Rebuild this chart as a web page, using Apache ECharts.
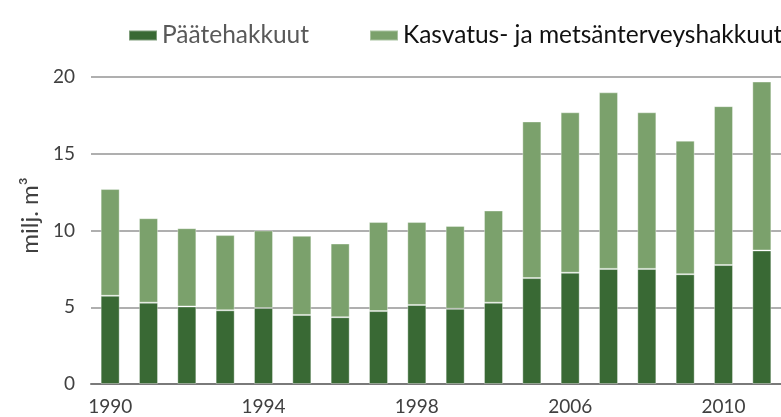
<!DOCTYPE html>
<html>
	<head>
		<meta charset="utf-8" />
		<script type="text/javascript" src="https://cdn.jsdelivr.net/npm/echarts@6/dist/echarts.min.js"></script>
		<title></title>
		<style>
			html, body { margin: 0; padding: 0; background: #fff; }
		</style>
	</head>
	<body>
		<div id="chartmain" style="width:781px; height: 417px;"></div>
		<script type="text/javascript">
var years = ['1990', '1991', '1992', '1993', '1994', '1995', '1996', '1997', '1998',
  '2002', '2004', '2005', '2006', '2007', '2008', '2009', '2010', '2011'];
// milj. m3
var paatehakkuut = [5.75, 5.3, 5.05, 4.8, 4.95, 4.5, 4.35, 4.75, 5.15,
  4.9, 5.3, 6.9, 7.25, 7.5, 7.5, 7.15, 7.75, 8.7];
var kasvatus = [6.95, 5.5, 5.1, 4.9, 5.05, 5.15, 4.8, 5.8, 5.4,
  5.4, 6.0, 10.2, 10.45, 11.5, 10.2, 8.7, 10.35, 11.0];
var yTicks = [0, 5, 10, 15, 20];

var font = 'Lato';
var darkGreen = '#396934';
var lightGreen = '#7ba16c';

option = {
  animation: false,
  textStyle: { fontFamily: font },
  legend: [
    {
      left: 123,
      top: 18,
      itemWidth: 28,
      itemHeight: 10,
      itemGap: 8,
      icon: 'rect',
      textStyle: { fontFamily: font, fontSize: 24.5, color: '#595959' },
      data: ['Päätehakkuut']
    },
    {
      left: 364,
      top: 18,
      itemWidth: 28,
      itemHeight: 10,
      icon: 'rect',
      textStyle: { fontFamily: font, fontSize: 24.5, color: '#111' },
      data: ['Kasvatus- ja metsänterveyshakkuut']
    }
  ],
  grid: {
    left: 91,
    right: -14,
    top: 77,
    bottom: 33,
    containLabel: false
  },
  xAxis: {
    type: 'category',
    data: years,
    axisTick: { show: false },
    axisLine: { lineStyle: { color: '#7a7a7a', width: 2 } },
    axisLabel: {
      interval: 3,
      margin: 13,
      fontFamily: font,
      fontSize: 19,
      color: '#404040'
    }
  },
  yAxis: {
    type: 'value',
    min: yTicks[0],
    max: yTicks[yTicks.length - 1],
    interval: 5,
    name: 'milj. m³',
    nameLocation: 'middle',
    nameGap: 48,
    nameTextStyle: {
      fontFamily: font,
      fontSize: 24,
      color: '#404040',
      padding: [0, 0, 0, 30]
    },
    axisLine: { show: false },
    axisTick: { show: false },
    axisLabel: {
      margin: 16,
      fontFamily: font,
      fontSize: 19,
      color: '#404040'
    },
    splitLine: { lineStyle: { color: '#959595', width: 1.5 } }
  },
  series: [
    {
      name: 'Päätehakkuut',
      type: 'bar',
      stack: 'total',
      barWidth: 19,
      itemStyle: { color: darkGreen, borderColor: 'rgba(255,255,255,0.35)', borderWidth: 1 },
      data: paatehakkuut
    },
    {
      name: 'Kasvatus- ja metsänterveyshakkuut',
      type: 'bar',
      stack: 'total',
      barWidth: 19,
      itemStyle: { color: lightGreen, borderColor: 'rgba(255,255,255,0.35)', borderWidth: 1 },
      data: kasvatus
    }
  ]
};
			var myChart = echarts.init(document.getElementById('chartmain'));
			myChart.setOption(option);

			window.addEventListener('resize', function () {
				myChart.resize()
			})
		</script>
	</body>
</html>
